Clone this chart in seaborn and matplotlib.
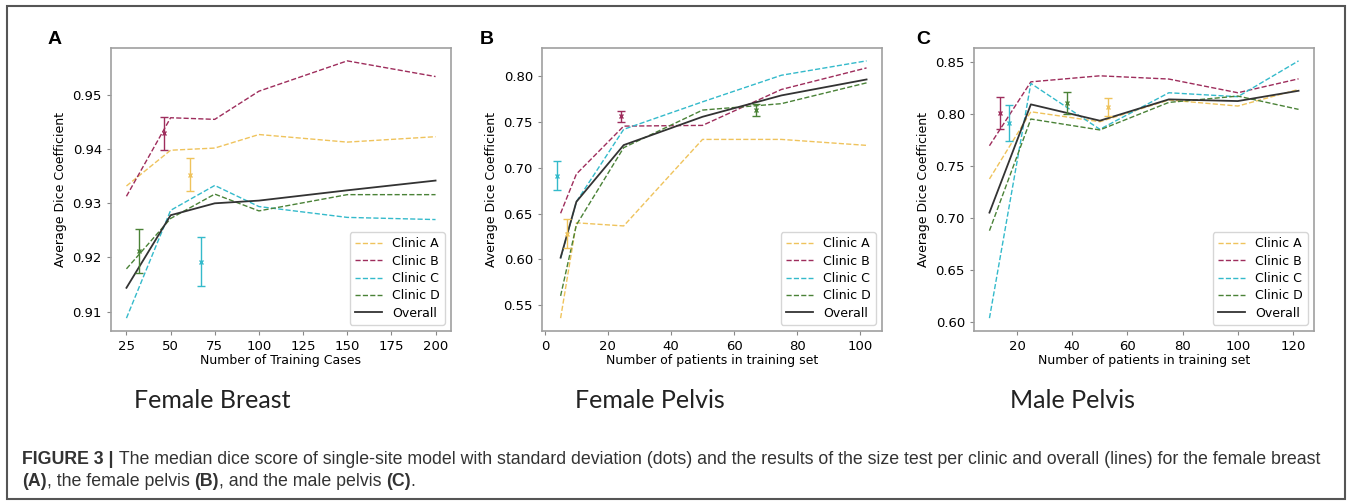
import numpy as np
import pandas as pd
import seaborn as sns
import matplotlib.pyplot as plt
from matplotlib.patches import Rectangle

# ---- data ----
groups = ['Clinic A', 'Clinic B', 'Clinic C', 'Clinic D', 'Overall']

# A: female breast
a_n = [25, 50, 75, 100, 150, 200]
a_clinic_a = [0.9332, 0.9398, 0.9402, 0.9427, 0.9413, 0.9423]
a_clinic_b = [0.9313, 0.9458, 0.9455, 0.9507, 0.9563, 0.9534]
a_clinic_c = [0.9088, 0.9287, 0.9333, 0.9294, 0.9274, 0.9270]
a_clinic_d = [0.9179, 0.9272, 0.9317, 0.9286, 0.9316, 0.9316]
a_overall = [0.9144, 0.9278, 0.9300, 0.9305, 0.9324, 0.9342]
a_site_n = [61, 46, 67, 32]
a_site_dice = [0.9353, 0.9429, 0.9192, 0.9212]
a_site_sd = [0.0031, 0.0031, 0.0045, 0.0040]

# B: female pelvis
b_n = [5, 10, 25, 50, 75, 102]
b_clinic_a = [0.536, 0.640, 0.6366, 0.731, 0.731, 0.7245]
b_clinic_b = [0.6504, 0.6932, 0.7455, 0.7463, 0.7855, 0.809]
b_clinic_c = [0.6014, 0.663, 0.742, 0.772, 0.801, 0.8167]
b_clinic_d = [0.5603, 0.6377, 0.722, 0.763, 0.770, 0.7927]
b_overall = [0.602, 0.663, 0.7248, 0.7557, 0.779, 0.7964]
b_site_n = [7, 24, 4, 67]
b_site_dice = [0.628, 0.756, 0.6914, 0.763]
b_site_sd = [0.016, 0.006, 0.016, 0.007]

# C: male pelvis
c_n = [10, 25, 50, 75, 100, 122]
c_clinic_a = [0.7378, 0.8025, 0.7929, 0.8138, 0.808, 0.824]
c_clinic_b = [0.7698, 0.8313, 0.8371, 0.834, 0.8208, 0.8342]
c_clinic_c = [0.6038, 0.8298, 0.7856, 0.8208, 0.817, 0.8515]
c_clinic_d = [0.688, 0.7955, 0.785, 0.8115, 0.8176, 0.8048]
c_overall = [0.7054, 0.8096, 0.7939, 0.8144, 0.8128, 0.8227]
c_site_n = [53, 14, 17, 38]
c_site_dice = [0.8073, 0.8012, 0.7916, 0.8106]
c_site_sd = [0.0088, 0.0155, 0.0175, 0.0105]

panel_letters = ['A', 'B', 'C']
panel_titles = ['Female Breast', 'Female Pelvis', 'Male Pelvis']
x_labels = ['Number of Training Cases', 'Number of patients in training set',
            'Number of patients in training set']

colors = {'Clinic A': '#EFC35C', 'Clinic B': '#9E2D5C', 'Clinic C': '#34BACB',
          'Clinic D': '#4A8237', 'Overall': '#333333'}
dashes = {'Clinic A': (3.7, 1.6), 'Clinic B': (3.7, 1.6), 'Clinic C': (3.7, 1.6),
          'Clinic D': (3.7, 1.6), 'Overall': ''}


def long_frame(n, series):
    rows = []
    for g, vals in zip(groups, series):
        for x, v in zip(n, vals):
            rows.append({'n': x, 'dice': v, 'group': g})
    return pd.DataFrame(rows)


panels = [
    (a_n, [a_clinic_a, a_clinic_b, a_clinic_c, a_clinic_d, a_overall], a_site_n, a_site_dice, a_site_sd),
    (b_n, [b_clinic_a, b_clinic_b, b_clinic_c, b_clinic_d, b_overall], b_site_n, b_site_dice, b_site_sd),
    (c_n, [c_clinic_a, c_clinic_b, c_clinic_c, c_clinic_d, c_overall], c_site_n, c_site_dice, c_site_sd),
]

plt.rcParams['font.family'] = ['DejaVu Sans']
fig = plt.figure(figsize=(13.57, 5.03), dpi=100)

W, H = 1357, 503
ax_left = [111, 542, 974]
ax_w = 340
ax_top, ax_bot = 48, 331

for i, (n, series, sn, sd_y, sd) in enumerate(panels):
    ax = fig.add_axes([ax_left[i] / W, 1 - ax_bot / H, ax_w / W, (ax_bot - ax_top) / H])
    df = long_frame(n, series)
    sns.lineplot(data=df, x='n', y='dice', hue='group', style='group',
                 hue_order=groups, style_order=groups, palette=colors,
                 dashes=dashes, linewidth=1.0, ax=ax)
    for line in ax.lines:
        if line.get_linestyle() == '-':
            line.set_linewidth(1.3)
    for g, x, y, e in zip(groups[:4], sn, sd_y, sd):
        ax.errorbar(x, y, yerr=e, fmt='x', color=colors[g], ms=3, mew=1,
                    elinewidth=1, capsize=3, capthick=1)
    handles, labels = ax.get_legend_handles_labels()
    ax.legend(handles[:5], labels[:5], loc='lower right', fontsize=9,
              labelspacing=0.35, handlelength=2.2)
    ax.set_xlabel(x_labels[i], fontsize=9, labelpad=1)
    ax.set_ylabel('Average Dice Coefficient', fontsize=9)
    ax.tick_params(labelsize=9.5, color='#888888', length=3)
    for s in ax.spines.values():
        s.set_color('#a0a0a0')
        s.set_linewidth(1.2)

    fig.text([55, 487, 923][i] / W, 1 - 40 / H, panel_letters[i],
             family=['Liberation Sans', 'DejaVu Sans'], weight='bold',
             fontsize=14, ha='center', va='center', color='black')
    fig.text([212, 650, 1072][i] / W, 1 - 400 / H, panel_titles[i],
             family=['Lato', 'DejaVu Sans'], fontsize=18, ha='center',
             va='center', color='#222222')

axes = fig.axes
axes[0].set_xticks([25, 50, 75, 100, 125, 150, 175, 200])
axes[1].set_xticks([0, 20, 40, 60, 80, 100])
axes[2].set_xticks([20, 40, 60, 80, 100, 120])
axes[0].set_yticks([0.91, 0.92, 0.93, 0.94, 0.95])
axes[1].set_yticks([0.55, 0.60, 0.65, 0.70, 0.75, 0.80])
axes[2].set_yticks([0.60, 0.65, 0.70, 0.75, 0.80, 0.85])
for ax in axes:
    ax.yaxis.set_major_formatter(plt.FormatStrFormatter('%.2f'))

# caption with mixed bold/regular pieces
cap_font = ['Liberation Sans', 'DejaVu Sans']
cap_size = 12.8
renderer = fig.canvas.get_renderer()


def draw_pieces(pieces, x0, y0):
    x = x0
    for txt, wt in pieces:
        t = fig.text(x / W, 1 - y0 / H, txt, family=cap_font, weight=wt,
                     fontsize=cap_size, va='center', ha='left', color='#333333')
        bb = t.get_window_extent(renderer)
        x += bb.width
    return x


line1 = [('FIGURE 3 |', 'bold'),
         ('\u00a0The median dice score of single-site model with standard deviation (dots) and the results '
          'of the size test per clinic and overall (lines) for the female breast', 'normal')]
line2 = [('(A)', 'bold'), (', the female pelvis\u00a0', 'normal'), ('(B)', 'bold'),
         (', and the male pelvis\u00a0', 'normal'), ('(C)', 'bold'), ('.', 'normal')]
draw_pieces(line1, 22, 460)
draw_pieces(line2, 22, 482)

fig.patches.append(Rectangle((7 / W, 4 / H), 1338 / W, 493 / H, transform=fig.transFigure,
                             fill=False, edgecolor='#555555', linewidth=1.5))

fig.savefig('out.png', dpi=100)
